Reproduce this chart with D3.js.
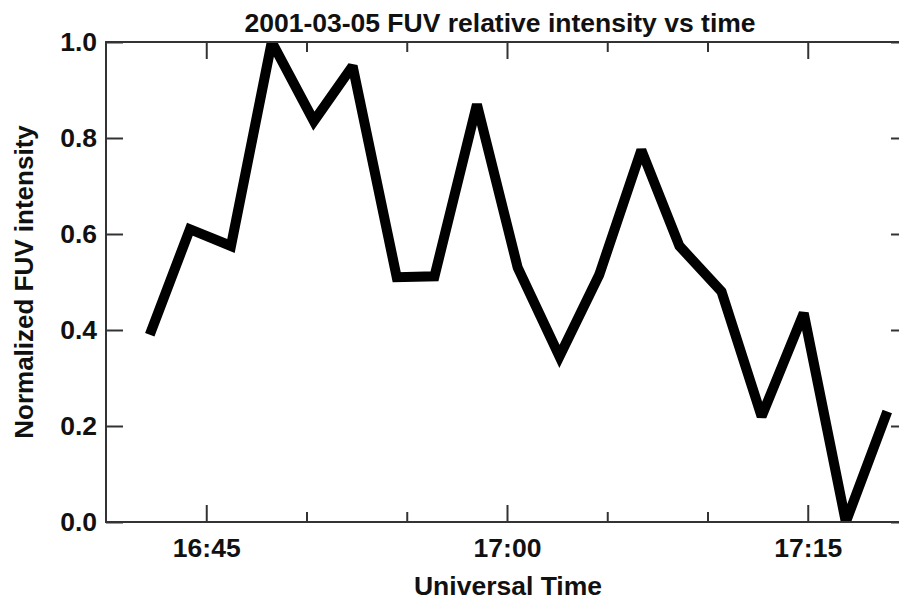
<!DOCTYPE html>
<html>
<head>
<meta charset="utf-8">
<script src="https://cdn.jsdelivr.net/npm/d3@7/dist/d3.min.js"></script>
<style>
  html, body { margin: 0; padding: 0; background: #fff; }
  svg { display: block; }
  text { font-family: "Liberation Sans", Arial, Helvetica, sans-serif; font-weight: bold; fill: #111; }
</style>
</head>
<body>
<svg id="chart" width="899" height="600"></svg>
<script>
// ---- data ----
const times = ["16:42:11","16:44:11","16:46:14","16:48:16","16:50:22","16:52:18","16:54:30","16:56:23",
               "16:58:30","17:00:32","17:02:37","17:04:36","17:06:42","17:08:36","17:10:42","17:12:42",
               "17:14:48","17:16:54","17:18:58"];
const intensity = [0.39, 0.61, 0.575, 1.0, 0.835, 0.95, 0.51, 0.512, 0.87, 0.53, 0.345, 0.515, 0.775,
                   0.575, 0.48, 0.22, 0.435, 0.0, 0.23];
const yTicks = [0.0, 0.2, 0.4, 0.6, 0.8, 1.0];
const xMajorTicks = ["16:45", "17:00", "17:15"];
const xMinorTicks = ["16:50", "16:55", "17:05", "17:10"];
const titleText = "2001-03-05 FUV relative intensity vs time";
const xLabel = "Universal Time";
const yLabel = "Normalized FUV intensity";
const dateStr = "2001-03-05";

const parse = s => new Date(dateStr + "T" + (s.length === 5 ? s + ":00" : s) + "Z");
const data = times.map((t, i) => ({ t: parse(t), v: intensity[i] }));

const svg = d3.select("#chart");
const L = 106, R = 908, T = 42, B = 522;

const x = d3.scaleUtc().domain([parse("16:40"), parse("17:20")]).range([L, R]);
const y = d3.scaleLinear().domain([0, 1]).range([B, T]);

const fmt = d3.utcFormat("%H:%M");
const axisColor = "#333";

// clip
svg.append("defs").append("clipPath").attr("id", "plotclip")
  .append("rect").attr("x", L).attr("y", T).attr("width", R - L).attr("height", B - T);

// data line
svg.append("path")
  .datum(data)
  .attr("clip-path", "url(#plotclip)")
  .attr("fill", "none")
  .attr("stroke", "#000")
  .attr("stroke-width", 10)
  .attr("stroke-linejoin", "miter")
  .attr("stroke-miterlimit", 2.5)
  .attr("stroke-linecap", "butt")
  .attr("d", d3.line().x(d => x(d.t)).y(d => y(d.v)));

function styleAxis(g) {
  g.select(".domain").remove();
  g.selectAll(".tick line").attr("stroke", axisColor).attr("stroke-width", 2);
  g.selectAll(".tick text").style("font-size", "26.5px").attr("fill", "#111");
}

// bottom major
svg.append("g").attr("transform", `translate(0,${B})`)
  .call(d3.axisBottom(x).tickValues(xMajorTicks.map(parse)).tickFormat(fmt)
        .tickSizeInner(-17).tickSizeOuter(0).tickPadding(16))
  .call(styleAxis);
// bottom minor
svg.append("g").attr("transform", `translate(0,${B})`)
  .call(d3.axisBottom(x).tickValues(xMinorTicks.map(parse)).tickFormat("")
        .tickSizeInner(-10).tickSizeOuter(0))
  .call(styleAxis);
// top major/minor
svg.append("g").attr("transform", `translate(0,${T})`)
  .call(d3.axisTop(x).tickValues(xMajorTicks.map(parse)).tickFormat("")
        .tickSizeInner(-17).tickSizeOuter(0))
  .call(styleAxis);
svg.append("g").attr("transform", `translate(0,${T})`)
  .call(d3.axisTop(x).tickValues(xMinorTicks.map(parse)).tickFormat("")
        .tickSizeInner(-10).tickSizeOuter(0))
  .call(styleAxis);
// left
svg.append("g").attr("transform", `translate(${L},0)`)
  .call(d3.axisLeft(y).tickValues(yTicks).tickFormat(d3.format(".1f"))
        .tickSizeInner(-17).tickSizeOuter(0).tickPadding(9))
  .call(styleAxis);
// right
svg.append("g").attr("transform", `translate(${R},0)`)
  .call(d3.axisRight(y).tickValues(yTicks).tickFormat("")
        .tickSizeInner(-17).tickSizeOuter(0))
  .call(styleAxis);

// frame
svg.append("rect")
  .attr("x", L).attr("y", T).attr("width", R - L).attr("height", B - T)
  .attr("fill", "none").attr("stroke", axisColor).attr("stroke-width", 2);

// title
svg.append("text").attr("x", 500).attr("y", 32).attr("text-anchor", "middle")
  .style("font-size", "26.5px").text(titleText);

// x label
svg.append("text").attr("x", 508).attr("y", 595).attr("text-anchor", "middle")
  .style("font-size", "26.5px").text(xLabel);

// y label
svg.append("text").attr("transform", `translate(33,282) rotate(-90)`).attr("text-anchor", "middle")
  .style("font-size", "26px").text(yLabel);
</script>
</body>
</html>
